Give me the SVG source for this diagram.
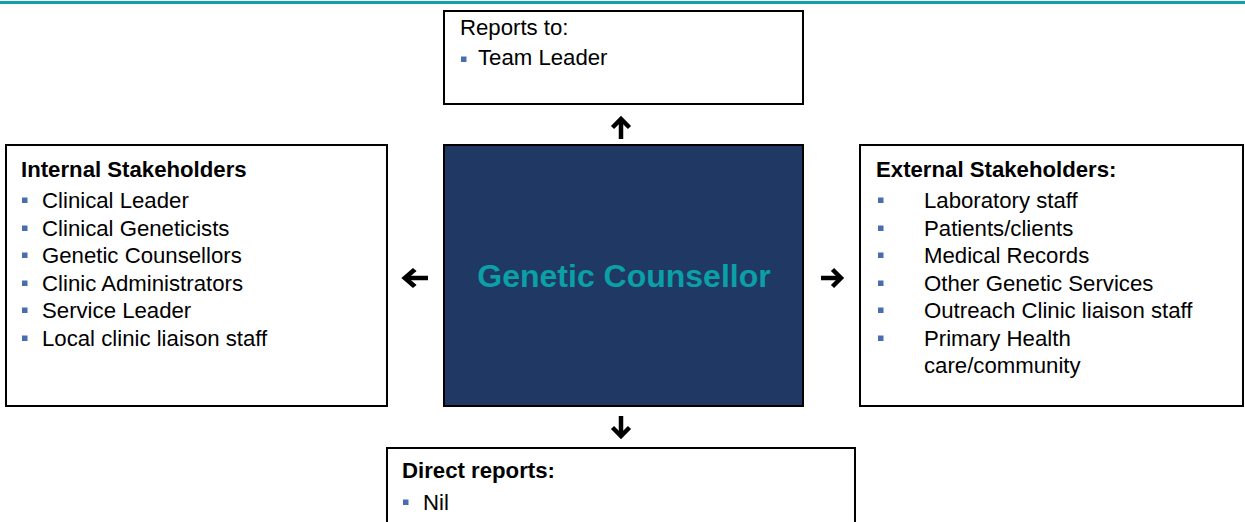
<svg xmlns="http://www.w3.org/2000/svg" width="1245" height="522" viewBox="0 0 1245 522">
<style>
.box{fill:#fff;stroke:#000;stroke-width:2}
.core{fill:#203864;stroke:#000;stroke-width:2}
.t{font-family:"Liberation Sans",Arial,sans-serif;font-size:22.2px;fill:#000}
.b{font-weight:bold}
.c{font-family:"Liberation Sans",Arial,sans-serif;font-size:32px;font-weight:bold;fill:#0aa0a6}
.blt{fill:#4a6db0}
.arr{fill:none;stroke:#000;stroke-width:4.5;stroke-linejoin:miter}
</style>
<defs>
<g id="arrow">
<line x1="0" y1="0" x2="19" y2="0" class="arr"/>
<polyline points="11.5,-8.5 20,0 11.5,8.5" class="arr"/>
</g>
</defs>
<rect x="0" y="1" width="1245" height="3" fill="#0ea3a8"/>
<g id="reports-to">
<rect class="box" x="444" y="11" width="359" height="93"/>
<text class="t" x="460" y="35">Reports to:</text>
<rect class="blt" x="461" y="56.5" width="5.5" height="5.5"/>
<text class="t" x="478" y="65">Team Leader</text>
</g>
<g id="genetic-counsellor">
<rect class="core" x="444" y="145" width="359" height="261"/>
<text class="c" x="624" y="287" text-anchor="middle">Genetic Counsellor</text>
</g>
<g id="internal">
<rect class="box" x="6" y="145" width="381" height="261"/>
<text class="t b" x="21" y="177">Internal Stakeholders</text>
<rect class="blt" x="22" y="197.5" width="5.5" height="5.5"/>
<text class="t" x="42" y="208">Clinical Leader</text>
<rect class="blt" x="22" y="225.5" width="5.5" height="5.5"/>
<text class="t" x="42" y="236">Clinical Geneticists</text>
<rect class="blt" x="22" y="252.5" width="5.5" height="5.5"/>
<text class="t" x="42" y="263">Genetic Counsellors</text>
<rect class="blt" x="22" y="280.5" width="5.5" height="5.5"/>
<text class="t" x="42" y="291">Clinic Administrators</text>
<rect class="blt" x="22" y="307.5" width="5.5" height="5.5"/>
<text class="t" x="42" y="318">Service Leader</text>
<rect class="blt" x="22" y="335.5" width="5.5" height="5.5"/>
<text class="t" x="42" y="346">Local clinic liaison staff</text>
</g>
<g id="external">
<rect class="box" x="860" y="145" width="383" height="261"/>
<text class="t b" x="876" y="177">External Stakeholders:</text>
<rect class="blt" x="878" y="197.5" width="5.5" height="5.5"/>
<text class="t" x="924" y="208">Laboratory staff</text>
<rect class="blt" x="878" y="225.5" width="5.5" height="5.5"/>
<text class="t" x="924" y="236">Patients/clients</text>
<rect class="blt" x="878" y="252.5" width="5.5" height="5.5"/>
<text class="t" x="924" y="263">Medical Records</text>
<rect class="blt" x="878" y="280.5" width="5.5" height="5.5"/>
<text class="t" x="924" y="291">Other Genetic Services</text>
<rect class="blt" x="878" y="307.5" width="5.5" height="5.5"/>
<text class="t" x="924" y="318">Outreach Clinic liaison staff</text>
<rect class="blt" x="878" y="335.5" width="5.5" height="5.5"/>
<text class="t" x="924" y="346">Primary Health</text>
<text class="t" x="924" y="373">care/community</text>
</g>
<g id="direct-reports">
<rect class="box" x="387" y="448" width="468" height="80"/>
<text class="t b" x="402" y="478">Direct reports:</text>
<rect class="blt" x="403" y="499.5" width="5.5" height="5.5"/>
<text class="t" x="423" y="510">Nil</text>
</g>
<g id="connectors">
<use href="#arrow" transform="translate(621,139) rotate(-90)"/>
<use href="#arrow" transform="translate(621,416) rotate(90)"/>
<use href="#arrow" transform="translate(428,278) rotate(180) scale(1.15,1)"/>
<use href="#arrow" transform="translate(821,278)"/>
</g>
</svg>
